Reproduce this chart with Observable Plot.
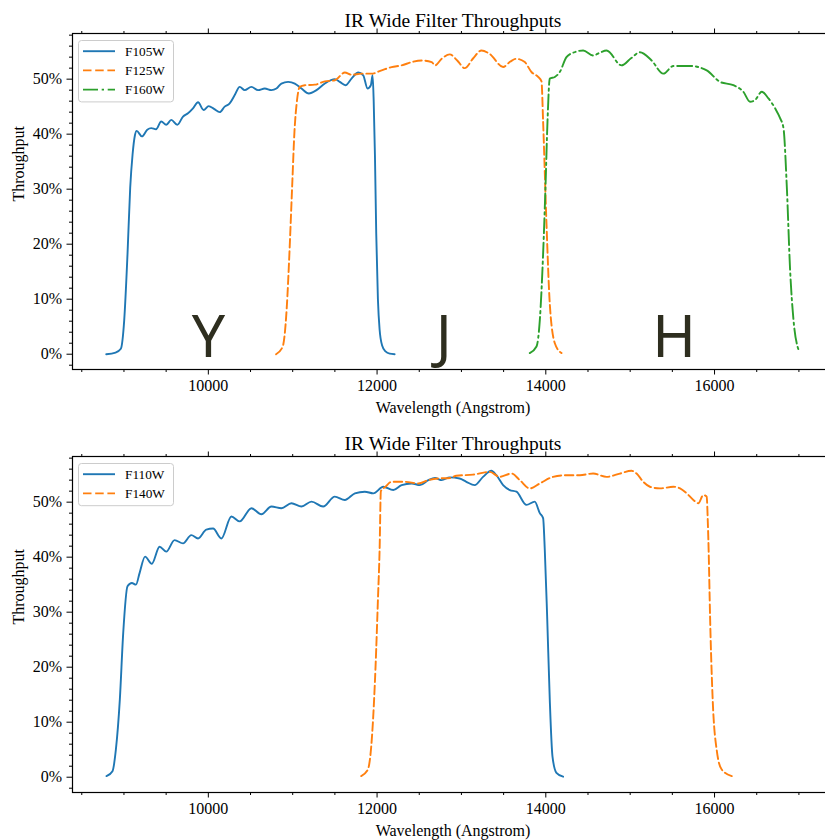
<!DOCTYPE html>
<html>
<head>
<meta charset="utf-8">
<script src="https://cdn.jsdelivr.net/npm/d3@7"></script>
<script src="https://cdn.jsdelivr.net/npm/@observablehq/plot@0.6"></script>
<style>
  html, body { margin: 0; padding: 0; background: #fff; overflow: hidden; width: 825px; height: 840px; }
  #wrap { position: relative; width: 825px; height: 840px; overflow: hidden; background: #fff; }
  .panel { position: absolute; left: 0; }
  .panel svg { max-width: none !important; overflow: visible; }
  .legend { position: absolute; }
  g[aria-label="title"] text { letter-spacing: 0.8px; }
  g[aria-label="axis-label"] text { letter-spacing: 0.6px; }
</style>
</head>
<body>
<div id="wrap"></div>
<script>
// ---------------- data (wavelength in Angstrom, throughput in %) ----------------
const F105W_WL = [8790, 8900, 8963, 9003, 9042, 9074, 9102, 9130, 9150, 9213, 9276, 9323, 9380, 9442, 9501, 9561, 9632, 9700, 9759, 9818, 9878, 9944, 10004, 10067, 10135, 10194, 10253, 10313, 10372, 10431, 10510, 10589, 10669, 10748, 10807, 10866, 10946, 11025, 11104, 11191, 11282, 11381, 11499, 11558, 11626, 11697, 11777, 11836, 11887, 11926, 11947, 11960, 11975, 11990, 12010, 12030, 12060, 12100, 12150, 12208];
const F105W_TP = [0.0, 0.3, 1.0, 6.2, 18.2, 30.3, 36.3, 39.8, 40.6, 39.6, 40.8, 41.1, 40.9, 42.3, 41.7, 42.6, 41.7, 43.2, 43.8, 44.7, 45.8, 44.4, 45.1, 44.6, 44.0, 45.0, 45.6, 47.1, 48.6, 48.0, 48.6, 48.0, 48.3, 48.0, 48.3, 49.2, 49.5, 49.2, 48.3, 47.4, 48.0, 49.2, 50.0, 49.5, 48.9, 50.1, 51.2, 50.7, 48.3, 48.9, 50.7, 46.0, 36.0, 22.0, 10.0, 4.5, 1.6, 0.5, 0.1, 0.0];

const F125W_WL = [10803, 10882, 10930, 10961, 10993, 11021, 11050, 11084, 11143, 11262, 11381, 11499, 11618, 11697, 11816, 11935, 12054, 12172, 12291, 12410, 12528, 12647, 12687, 12766, 12861, 12950, 13039, 13140, 13237, 13335, 13494, 13580, 13652, 13751, 13830, 13909, 13949, 13968, 14007, 14047, 14107, 14186];
const F125W_TP = [0.0, 1.4, 8.6, 18.3, 30.3, 40.5, 46.0, 48.6, 48.9, 49.0, 49.6, 49.8, 51.2, 50.8, 51.0, 51.0, 51.6, 52.2, 52.5, 53.1, 53.4, 53.1, 52.5, 53.7, 54.5, 53.4, 52.0, 53.8, 55.2, 54.6, 52.2, 53.2, 53.7, 53.1, 51.3, 50.4, 49.6, 42.3, 24.2, 9.2, 2.0, 0.2];

const F160W_WL = [13810, 13890, 13929, 13968, 13996, 14020, 14047, 14107, 14166, 14245, 14324, 14443, 14561, 14640, 14720, 14898, 15010, 15116, 15254, 15393, 15512, 15709, 15907, 16065, 16223, 16342, 16421, 16480, 16560, 16639, 16718, 16777, 16817, 16857, 16896, 16936, 16995];
const F160W_TP = [0.2, 1.4, 6.2, 18.2, 30.3, 42.3, 50.1, 50.4, 51.3, 54.0, 54.8, 55.2, 54.3, 54.8, 55.2, 52.5, 53.8, 54.9, 53.4, 51.0, 52.4, 52.4, 51.6, 49.5, 48.9, 47.7, 45.9, 46.2, 47.7, 46.5, 44.7, 42.9, 41.1, 30.3, 15.2, 6.2, 0.8];

const F110W_WL = [8793, 8864, 8904, 8951, 8991, 9042, 9094, 9142, 9185, 9250, 9330, 9422, 9501, 9600, 9700, 9798, 9878, 9976, 10056, 10154, 10273, 10372, 10510, 10629, 10748, 10866, 10985, 11104, 11223, 11361, 11499, 11618, 11737, 11855, 11955, 12073, 12192, 12291, 12410, 12508, 12608, 12687, 12766, 12861, 12979, 13058, 13157, 13256, 13355, 13414, 13494, 13573, 13652, 13771, 13869, 13929, 13968, 13988, 14016, 14047, 14079, 14126, 14205];
const F110W_TP = [0.2, 1.1, 5.0, 14.1, 26.2, 34.7, 35.3, 35.0, 37.1, 40.1, 38.8, 41.9, 41.0, 43.1, 42.5, 44.0, 43.4, 45.0, 45.2, 43.4, 47.4, 46.5, 48.9, 47.8, 49.2, 48.9, 49.8, 49.2, 50.1, 49.2, 51.0, 50.4, 51.6, 51.9, 51.6, 52.8, 52.2, 53.1, 53.4, 53.1, 54.0, 54.4, 54.0, 54.5, 54.3, 53.7, 53.1, 54.6, 55.7, 54.9, 53.1, 52.2, 51.9, 49.5, 50.1, 48.0, 47.1, 41.3, 29.2, 14.1, 3.8, 0.8, 0.1];

const F140W_WL = [11812, 11891, 11943, 11982, 12010, 12030, 12045, 12100, 12172, 12330, 12489, 12608, 12727, 12865, 12940, 13137, 13335, 13454, 13593, 13692, 13810, 13929, 14087, 14245, 14404, 14561, 14720, 14878, 15017, 15076, 15155, 15234, 15353, 15512, 15591, 15670, 15749, 15808, 15867, 15907, 15920, 15930, 15947, 15978, 16025, 16085, 16204];
const F140W_TP = [0.2, 1.4, 8.1, 20.1, 32.2, 41.3, 52.0, 52.8, 53.7, 53.7, 53.4, 54.0, 54.3, 54.4, 54.8, 55.0, 55.5, 54.6, 55.2, 54.0, 52.5, 53.4, 54.6, 54.9, 54.9, 55.2, 54.6, 55.2, 55.7, 55.2, 53.7, 52.8, 52.5, 52.8, 52.5, 51.6, 50.4, 49.8, 51.3, 51.0, 46.5, 41.3, 29.2, 14.1, 5.0, 1.4, 0.2];

const BAND_LABELS = ["Y", "J", "H"];
const BAND_WL = [10000, 12790, 15520];

const X_MAJOR = [10000, 12000, 14000, 16000];
const X_MINOR = [8500, 9000, 9500, 10500, 11000, 11500, 12500, 13000, 13500, 14500, 15000, 15500, 16500, 17000];
const Y_MAJOR = [0, 10, 20, 30, 40, 50];
const Y_MINOR = [-2, 2, 4, 6, 8, 12, 14, 16, 18, 22, 24, 26, 28, 32, 34, 36, 38, 42, 44, 46, 48, 52, 54, 56, 58];

const TITLE = "IR Wide Filter Throughputs";
const X_LABEL = "Wavelength (Angstrom)";
const Y_LABEL = "Throughput";

// ---------------- styling ----------------
const BLUE = "#1f77b4", ORANGE = "#ff7f0e", GREEN = "#2ca02c";
const SOLID = null, DASHED = "8.5,3.7", DASHDOT = "15,3.7,2.3,3.7";
const SERIF = "'Liberation Serif', 'DejaVu Serif', serif";
const LW = 1.9;

function series(name, wl, tp, color, dash) {
  return {name, color, dash, data: wl.map((w, i) => ({wl: w, tp: tp[i]}))};
}

const TOP_SERIES = [
  series("F105W", F105W_WL, F105W_TP, BLUE, SOLID),
  series("F125W", F125W_WL, F125W_TP, ORANGE, DASHED),
  series("F160W", F160W_WL, F160W_TP, GREEN, DASHDOT)
];
const BOTTOM_SERIES = [
  series("F110W", F110W_WL, F110W_TP, BLUE, SOLID),
  series("F140W", F140W_WL, F140W_TP, ORANGE, DASHED)
];
const BANDS = BAND_LABELS.map((b, i) => ({label: b, wl: BAND_WL[i]}));

const W = 840, H = 419;
const M = {left: 72, right: 7, top: 33, bottom: 50};

function makePanel(seriesList, bands) {
  const marks = [
    Plot.axisX(X_MAJOR, {tickSize: 5.5, tickPadding: 5, tickFormat: d => String(d), label: null, fontSize: 16, stroke: "black"}),
    Plot.axisX(X_MINOR, {tickSize: 3, tickFormat: () => "", label: null, stroke: "black"}),
    Plot.axisX(X_MAJOR, {anchor: "top", tickSize: 5.5, tickFormat: () => "", label: null, stroke: "black"}),
    Plot.axisX(X_MINOR, {anchor: "top", tickSize: 3, tickFormat: () => "", label: null, stroke: "black"}),
    Plot.axisY(Y_MAJOR, {tickSize: 5.5, tickPadding: 5, tickFormat: d => d + "%", label: null, fontSize: 16, stroke: "black"}),
    Plot.axisY(Y_MINOR, {tickSize: 3, tickFormat: () => "", label: null, stroke: "black"}),
    Plot.frame({stroke: "black", strokeWidth: 1.2})
  ];
  for (const s of seriesList) {
    marks.push(Plot.line(s.data, {x: "wl", y: "tp", stroke: s.color, strokeWidth: LW, strokeDasharray: s.dash, curve: "monotone-x"}));
  }
  if (bands) {
    marks.push(Plot.text(bands, {x: "wl", y: 0, text: "label", fontSize: 59, fontFamily: "'Noto Sans', 'Open Sans', sans-serif", fill: "#2e2e1f", lineAnchor: "bottom", textAnchor: "middle", dy: 3}));
  }
  marks.push(Plot.text([TITLE], {text: d => d, frameAnchor: "top", dy: -13, lineAnchor: "middle", fontSize: 19.5, fontFamily: SERIF, fill: "black", ariaLabel: "title"}));
  marks.push(Plot.text([X_LABEL], {text: d => d, frameAnchor: "bottom", dy: 38, lineAnchor: "middle", fontSize: 16, fontFamily: SERIF, fill: "black", ariaLabel: "axis-label"}));
  marks.push(Plot.text([Y_LABEL], {text: d => d, frameAnchor: "left", dx: -54, rotate: -90, lineAnchor: "middle", fontSize: 16, fontFamily: SERIF, fill: "black", ariaLabel: "axis-label"}));

  return Plot.plot({
    width: W, height: H,
    marginLeft: M.left, marginRight: M.right, marginTop: M.top, marginBottom: M.bottom,
    style: {fontFamily: SERIF, fontSize: "16px", color: "black", background: "white", overflow: "visible", maxWidth: "none"},
    x: {domain: [8390, 17410], label: null},
    y: {domain: [-2.78, 58.3], label: null},
    marks
  });
}

function makeLegend(seriesList) {
  const rowH = 19.2, w = 96;
  const h = 11 + (seriesList.length - 1) * rowH + 13;
  const svg = d3.create("svg").attr("width", w).attr("height", h).style("display", "block").style("overflow", "visible");
  svg.append("rect").attr("x", 0.5).attr("y", 0.5).attr("width", w - 1).attr("height", h - 1)
    .attr("rx", 3).attr("fill", "white").attr("fill-opacity", 0.8).attr("stroke", "#cccccc");
  seriesList.forEach((s, i) => {
    const y = 11.2 + i * rowH;
    const ln = svg.append("line").attr("x1", 5).attr("x2", 37).attr("y1", y).attr("y2", y)
      .attr("stroke", s.color).attr("stroke-width", LW);
    if (s.dash) ln.attr("stroke-dasharray", s.dash);
    svg.append("text").attr("x", 47).attr("y", y).attr("dy", "0.34em")
      .attr("font-family", SERIF).attr("font-size", 13.3).attr("fill", "black").text(s.name);
  });
  return svg.node();
}

const wrap = document.getElementById("wrap");
function place(node, top, left, cls) {
  const div = document.createElement("div");
  div.className = cls;
  div.style.top = top + "px";
  div.style.left = left + "px";
  div.appendChild(node);
  wrap.appendChild(div);
}

place(makePanel(TOP_SERIES, BANDS), 0, 0, "panel");
place(makePanel(BOTTOM_SERIES, null), 423, 0, "panel");
place(makeLegend(TOP_SERIES), 40, 78, "legend");
place(makeLegend(BOTTOM_SERIES), 463, 78, "legend");
</script>
</body>
</html>
